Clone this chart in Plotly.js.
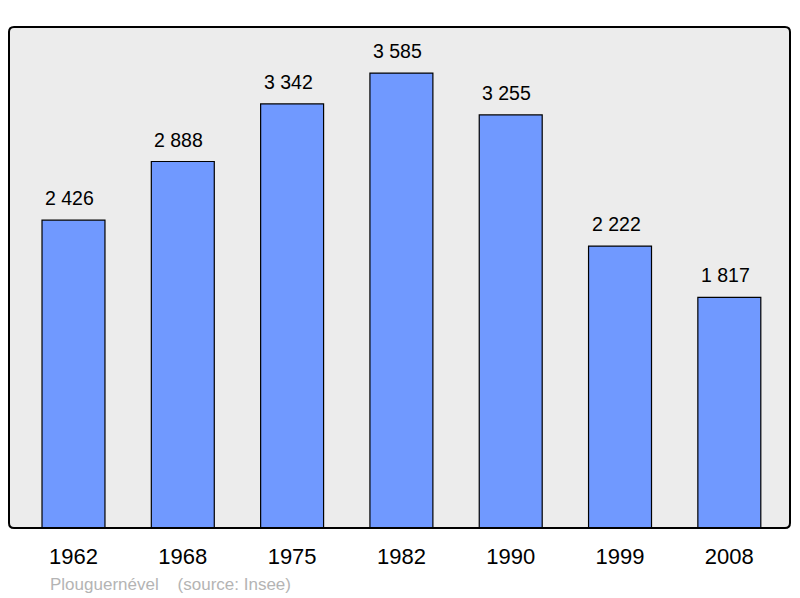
<!DOCTYPE html>
<html><head><meta charset="utf-8">
<script src="https://cdn.plot.ly/plotly-3.0.1.min.js"></script>
<style>body{margin:0;background:#fff}#c{width:800px;height:598px}</style>
</head><body><div id="c"></div>
<script>
const years = ['1962','1968','1975','1982','1990','1999','2008'];
const population = [2426, 2888, 3342, 3585, 3255, 2222, 1817];
const footer = 'Plouguernével    (source: Insee)';

const W = 800, H = 598, mL = 9, mR = 10, mT = 27, mB = 70;
const pw = W - mL - mR, ph = H - mT - mB;
const r = 5, rx = r / pw, ry = r / ph;
const path = `M ${rx} 0 L ${1-rx} 0 Q 1 0 1 ${ry} L 1 ${1-ry} Q 1 1 ${1-rx} 1 L ${rx} 1 Q 0 1 0 ${1-ry} L 0 ${ry} Q 0 0 ${rx} 0 Z`;

const fmt = v => String(v).replace(/\B(?=(\d{3})+(?!\d))/g, ' ');

const trace = {
  type: 'bar', x: years, y: population, width: 0.576,
  marker: {color: '#7099ff', line: {color: '#000', width: 1.2}},
  hoverinfo: 'skip'
};

const annotations = years.map((yr, i) => ({
  x: i, y: population[i], xref: 'x', yref: 'y', text: fmt(population[i]),
  showarrow: false, yanchor: 'bottom', yshift: 9, xshift: -4,
  font: {family: 'Liberation Sans, Arial, sans-serif', size: 19.5, color: '#000'}
}));
annotations.push({
  x: 0.05, y: 0, xref: 'paper', yref: 'paper', xanchor: 'left', yanchor: 'middle',
  yshift: -56, text: footer, showarrow: false,
  font: {family: 'Liberation Sans, Arial, sans-serif', size: 17, color: '#b4b4b4'}
});

const layout = {
  width: W, height: H,
  margin: {l: mL, r: mR, t: mT, b: mB, pad: 0},
  paper_bgcolor: '#fff', plot_bgcolor: 'rgba(0,0,0,0)',
  showlegend: false,
  xaxis: {type: 'category', range: [-0.59, 6.555], showgrid: false, zeroline: false,
    showline: false, ticks: 'outside', ticklen: 9, tickcolor: 'rgba(0,0,0,0)',
    tickfont: {family: 'Liberation Sans, Arial, sans-serif', size: 22, color: '#000'}, fixedrange: true},
  yaxis: {range: [0, 3948], showgrid: false, zeroline: false, showline: false,
    showticklabels: false, ticks: '', fixedrange: true},
  shapes: [
    {type: 'path', xref: 'paper', yref: 'paper', path: path, fillcolor: '#ececec',
     line: {width: 0}, layer: 'below'},
    {type: 'path', xref: 'paper', yref: 'paper', path: path, fillcolor: 'rgba(0,0,0,0)',
     line: {color: '#000', width: 2}, layer: 'above'}
  ],
  annotations: annotations
};

Plotly.newPlot('c', [trace], layout, {displayModeBar: false, staticPlot: true});
</script></body></html>
